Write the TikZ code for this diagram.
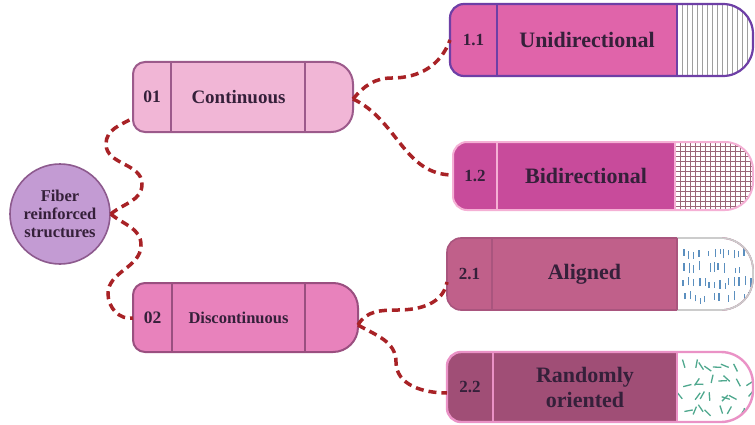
\documentclass[tikz,border=0pt]{standalone}
\usepackage{fontspec}
\setmainfont{Liberation Serif}
\definecolor{txt}{HTML}{35203A}
\definecolor{dred}{HTML}{A82226}
\definecolor{circf}{HTML}{C39BD3}
\definecolor{circb}{HTML}{8D5A8E}
\definecolor{fA}{HTML}{F1B6D6}
\definecolor{bA}{HTML}{9C5A8B}
\definecolor{fB}{HTML}{E882BC}
\definecolor{bB}{HTML}{9A4F80}
\definecolor{fC}{HTML}{E064AA}
\definecolor{bC}{HTML}{6E3FA6}
\definecolor{fD}{HTML}{C84B9B}
\definecolor{bD}{HTML}{F5B0D5}
\definecolor{fE}{HTML}{C0608A}
\definecolor{bE}{HTML}{A9557E}
\definecolor{fF}{HTML}{A04E76}
\definecolor{bF}{HTML}{EA92C6}
\definecolor{bluedash}{HTML}{5B8FBF}
\definecolor{greendash}{HTML}{4FA88E}
\begin{document}
\begin{tikzpicture}[x=1pt,y=1pt,
 capsule/.style n args={6}{insert path={(#1+#5,#4) -- (#3-#6,#4) arc[start angle=90,end angle=0,radius=#6] -- (#3,#2+#6) arc[start angle=0,end angle=-90,radius=#6] -- (#1+#5,#2) arc[start angle=270,end angle=180,radius=#5] -- (#1,#4-#5) arc[start angle=180,end angle=90,radius=#5] -- cycle}},
 conn/.style={draw=dred, line width=3.5pt, dash pattern=on 8pt off 5pt},
 numtext/.style={font=\bfseries\fontsize{17}{20}\selectfont, text=txt, inner sep=0pt},
 labtext/.style={font=\bfseries\fontsize{22}{25}\selectfont, text=txt, inner sep=0pt, align=center},
 bdash/.style={draw=bluedash, line width=1.3pt},
 gdash/.style={draw=greendash, line width=1.3pt}
]
\fill[white] (0,0) rectangle (755,424);
\useasboundingbox (0,0) rectangle (755,424);

% ---------- circle ----------
\node[circle, draw=circb, fill=circf, line width=1.6pt, minimum size=100pt, inner sep=0pt,
      align=center, text=txt, font=\bfseries\fontsize{16.5}{18.3}\selectfont] (fr) at (60,210)
      {Fiber\\reinforced\\structures};

% ---------- 01 Continuous ----------
\fill[fA, capsule={133}{292}{353}{362}{12}{22}];
\draw[bA, line width=2pt, capsule={133}{292}{353}{362}{12}{22}];
\draw[bA, line width=2pt] (171,292) -- (171,362) (305,292) -- (305,362);
\node[numtext, font=\bfseries\fontsize{17.5}{20}\selectfont] (n01) at (152,327) {01};
\node[labtext, font=\bfseries\fontsize{19}{22}\selectfont] (l01) at (238.5,327) {Continuous};

% ---------- 02 Discontinuous ----------
\fill[fB, capsule={133}{72}{358}{141}{12}{25}];
\draw[bB, line width=2pt, capsule={133}{72}{358}{141}{12}{25}];
\draw[bB, line width=2pt] (172,72) -- (172,141) (305,72) -- (305,141);
\node[numtext, font=\bfseries\fontsize{17.5}{20}\selectfont] (n02) at (152.5,106.5) {02};
\node[labtext, font=\bfseries\fontsize{16.5}{20}\selectfont] (l02) at (238.5,106.5) {Discontinuous};

% ---------- 1.1 Unidirectional ----------
\fill[fC, capsule={450}{348}{753}{420}{14}{30}];
\begin{scope}
\clip[capsule={450}{348}{753}{420}{14}{30}];
\fill[white] (677,340) rectangle (760,430);
\foreach \x in {682,687,...,752} \draw[gray!75, line width=0.6pt] (\x,348) -- (\x,420);
\end{scope}
\draw[bC, line width=2.2pt, capsule={450}{348}{753}{420}{14}{30}];
\draw[bC, line width=2.2pt] (497,348) -- (497,420) (677,348) -- (677,420);
\node[numtext] (n11) at (473.5,384) {1.1};
\node[labtext] (l11) at (587,384) {Unidirectional};

% ---------- 1.2 Bidirectional ----------
\fill[fD, capsule={453}{214}{753}{282}{14}{28}];
\begin{scope}
\clip[capsule={453}{214}{753}{282}{14}{28}];
\fill[white] (675,205) rectangle (760,290);
\foreach \x in {680,685,...,752} \draw[black!55!purple!60, line width=0.5pt] (\x,214) -- (\x,282);
\foreach \y in {218,223,...,280} \draw[black!55!purple!60, line width=0.5pt] (675,\y) -- (755,\y);
\end{scope}
\draw[bD, line width=2pt, capsule={453}{214}{753}{282}{14}{28}];
\draw[bD, line width=2pt] (497,214) -- (497,282) (675,214) -- (675,282);
\node[numtext] (n12) at (475,248) {1.2};
\node[labtext] (l12) at (586,248) {Bidirectional};

% ---------- 2.1 Aligned ----------
\fill[fE, capsule={447}{114}{753}{186}{14}{32}];
\begin{scope}
\clip[capsule={447}{114}{753}{186}{14}{32}];
\fill[white] (677,105) rectangle (760,195);
\pgfmathsetseed{11}
\foreach \c in {0,...,13}{\foreach \r in {0,...,3}{
  \pgfmathsetmacro\xx{683+\c*5+rnd*3}
  \pgfmathsetmacro\yy{120+\r*15+rnd*5}
  \pgfmathsetmacro\ll{5+rnd*5}
  \pgfmathsetmacro\keep{rnd}
  \ifdim\keep pt<0.8pt \draw[bdash] (\xx,\yy) -- ++(0,\ll); \fi
}}
\end{scope}
\draw[bE, line width=1.6pt, capsule={447}{114}{753}{186}{14}{32}];
\draw[gray!40, line width=1.6pt] (677,186) -- (721,186) arc[start angle=90,end angle=0,radius=32] -- (753,146) arc[start angle=0,end angle=-90,radius=32] -- (677,114);
\draw[bE, line width=1.6pt] (492,114) -- (492,186) (677,114) -- (677,186);
\node[numtext] (n21) at (469.5,150) {2.1};
\node[labtext] (l21) at (584.5,150) {Aligned};

% ---------- 2.2 Randomly oriented ----------
\fill[fF, capsule={447}{2}{753}{72}{14}{32}];
\begin{scope}
\clip[capsule={447}{2}{753}{72}{14}{32}];
\fill[white] (677,-5) rectangle (760,80);
\pgfmathsetseed{5}
\foreach \c in {0,...,7}{\foreach \r in {0,...,3}{
  \pgfmathsetmacro\xx{682+\c*9+rnd*5}
  \pgfmathsetmacro\yy{7+\r*15+rnd*6}
  \pgfmathsetmacro\aa{rnd*180}
  \draw[gdash] (\xx,\yy) -- ++(\aa:8.5);
}}
\end{scope}
\draw[bF, line width=2.4pt, capsule={447}{2}{753}{72}{14}{32}];
\draw[bF, line width=2.4pt] (493,2) -- (493,72) (677,2) -- (677,72);
\node[numtext] (n22) at (470,37) {2.2};
\node[labtext, font=\bfseries\fontsize{22}{25}\selectfont] (l22) at (585,37) {Randomly\\oriented};

% ---------- connection points ----------
\coordinate (b01w) at (133,306);
\coordinate (b01e) at (353,325);
\coordinate (b02w) at (133,106);
\coordinate (b02e) at (358,99);
\coordinate (b11w) at (450,384);
\coordinate (b12w) at (453,249);
\coordinate (b21w) at (447,142);
\coordinate (b22w) at (447,31);

% ---------- connectors ----------
\draw[conn] (fr.east) to[out=40,in=-90] (142,240) to[out=90,in=-90] (106,280) to[out=90,in=210] (b01w);
\draw[conn] (fr.east) to[out=-40,in=90] (141,179) to[out=-90,in=90] (108,130) to[out=-90,in=190] (b02w);
\draw[conn] (b01e) to[out=50,in=180] (392,346) to[out=0,in=-110] (b11w);
\draw[conn] (b01e) to[out=-25,in=180] (b12w);
\draw[conn] (b02e) to[out=60,in=180] (398,114) to[out=0,in=-100] (b21w);
\draw[conn] (b02e) to[out=-30,in=90] (396,62) to[out=-90,in=180] (b22w);
\end{tikzpicture}
\end{document}
